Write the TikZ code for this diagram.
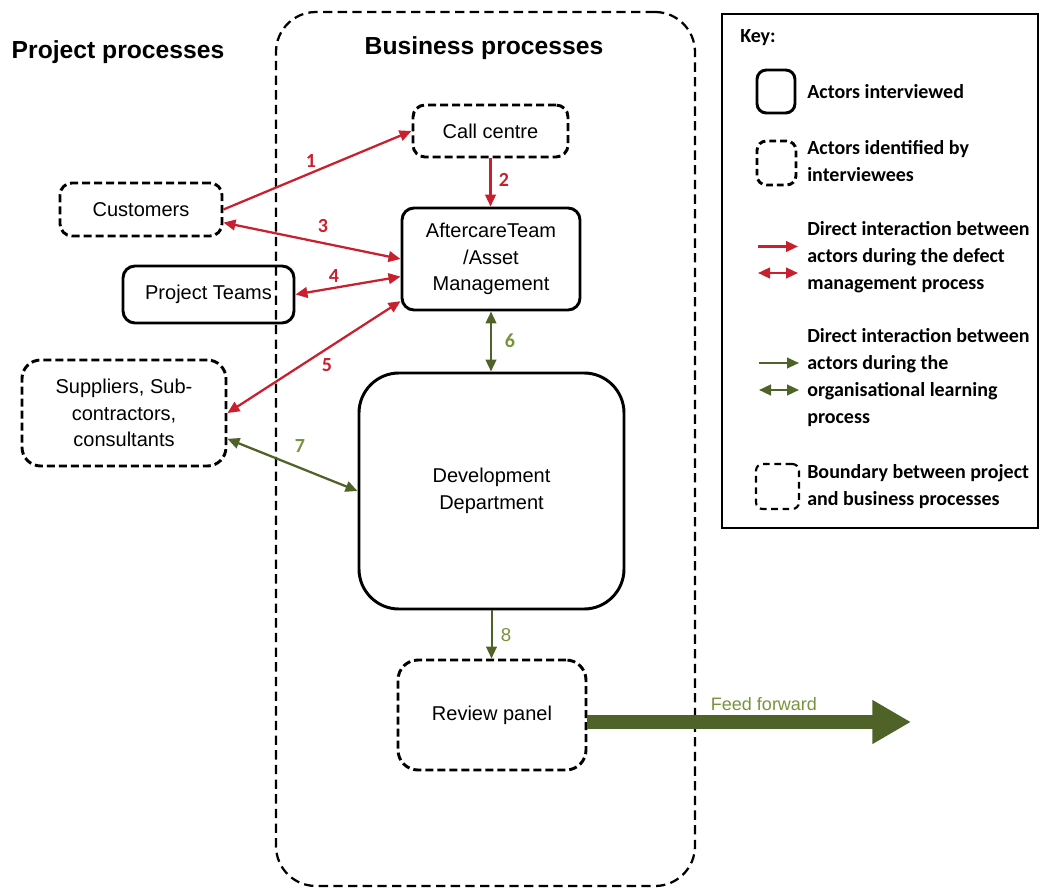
\documentclass[tikz,border=0pt]{standalone}
\usepackage{fontspec}
\setmainfont{Liberation Sans}
\newfontfamily\calib{Carlito}
\usetikzlibrary{arrows.meta}
\definecolor{myred}{RGB}{200,32,46}
\definecolor{mygreen}{RGB}{79,98,40}
\definecolor{mylgreen}{RGB}{119,147,60}
\newcommand{\nodefont}{\fontsize{15}{20}\selectfont}
\newcommand{\keyfont}{\calib\bfseries\fontsize{15}{20.25}\selectfont}
\tikzset{
  solidbox/.style={draw, line width=2.2pt, rounded corners=9pt, align=center, font=\nodefont, inner sep=0pt},
  dashbox/.style={solidbox, dash pattern=on 6pt off 3pt},
  tipr/.tip={Triangle[length=9pt,width=8pt]},
  redarr/.style={draw=myred, line width=1.7pt, -tipr, color=myred},
  redarrr/.style={draw=myred, line width=1.7pt, tipr-tipr, color=myred},
  grarr/.style={draw=mygreen, line width=1.5pt, -tipr, color=mygreen},
  grarrr/.style={draw=mygreen, line width=1.7pt, tipr-tipr, color=mygreen},
  rednum/.style={text=myred, font=\calib\bfseries\fontsize{15}{15}\selectfont, inner sep=0pt},
  grnum/.style={text=mylgreen, font=\calib\bfseries\fontsize{15}{15}\selectfont, inner sep=0pt},
  title/.style={font=\bfseries\fontsize{18.5}{20}\selectfont, inner sep=0pt},
  keytext/.style={font=\keyfont, align=left, anchor=west, inner sep=0pt},
}
\begin{document}
\begin{tikzpicture}[x=0.75pt,y=-0.75pt]
\useasboundingbox (0,0) rectangle (1040,888);
% boundary
\node[draw, line width=1.7pt, dash pattern=on 7pt off 4pt, rounded corners=30pt,
      minimum width=314.25pt, minimum height=655.5pt, inner sep=0pt] (bnd) at (485.5,449) {};
% titles
\node[title] (tproj) at (118,52) {Project processes};
\node[title] (tbus) at (484,48) {Business processes};
% nodes
\node[dashbox, minimum width=116.25pt, minimum height=39pt] (callc) at (490.5,131) {Call centre};
\node[dashbox, minimum width=121.5pt, minimum height=39.75pt] (cust) at (141,209.5) {Customers};
\node[solidbox, minimum width=133.5pt, minimum height=76.5pt] (aft) at (491,259) {AftercareTeam\\/Asset\\Management};
\node[solidbox, minimum width=128.25pt, minimum height=42.75pt] (pt) at (208.5,294.5) {Project Teams};
\node[dashbox, minimum width=153pt, minimum height=79.5pt, rounded corners=14pt] (sup) at (124,413) {Suppliers, Sub-\\contractors,\\consultants};
\node[solidbox, minimum width=198.75pt, minimum height=177pt, rounded corners=30pt] (dev) at (491.5,491) {Development\\Department};
\node[dashbox, minimum width=141pt, minimum height=82.5pt, rounded corners=15pt] (rev) at (492,715) {Review panel};
% red connectors
\draw[redarr] (cust.east) -- (callc.west);
\draw[redarr] (callc.south) -- (callc.south |- aft.north);
\draw[redarrr] (cust.-9) -- (aft.west);
\draw[redarrr] (pt.east) -- (aft.191);
\draw[redarrr] (sup.east) -- (aft.205);
% green connectors
\draw[grarrr] (aft.south) -- (aft.south |- dev.north);
\draw[grarrr] (sup.-14) -- (dev.west);
\draw[grarr] (dev.south) -- (dev.south |- rev.north);
% labels
\node[rednum] (l1) at (311,161) {1};
\node[rednum] (l2) at (504,180) {2};
\node[rednum] (l3) at (323,226) {3};
\node[rednum] (l4) at (334,276) {4};
\node[rednum] (l5) at (327,365) {5};
\node[grnum] (l6) at (510,341) {6};
\node[grnum] (l7) at (300,446) {7};
\node[text=mylgreen, font=\fontsize{14}{14}\selectfont, inner sep=0pt] (l8) at (506,635) {8};
% feed forward
\coordinate (ffend) at (911,722);
\draw[draw=mygreen, line width=10.5pt, -{Triangle[length=29pt,width=31pt]}, color=mygreen] (rev.east |- ffend) -- (ffend);
\node[text=mylgreen, font=\fontsize{13.5}{14}\selectfont, inner sep=0pt] (fftext) at (764,704) {Feed forward};
% key
\node[draw, line width=1.8pt, minimum width=237pt, minimum height=385.5pt, inner sep=0pt] (key) at (880,271) {};
\node[keytext] (keyt) at (740,38) {Key:};
\node[draw, line width=2.2pt, rounded corners=7pt, minimum width=28.5pt, minimum height=32.25pt, inner sep=0pt] (ks1) at (776,91.5) {};
\node[keytext] (kt1) at (807,92) {Actors interviewed};
\node[draw, line width=2.2pt, dash pattern=on 5pt off 3pt, rounded corners=7pt, minimum width=29.25pt, minimum height=33pt, inner sep=0pt] (ks2) at (776.5,163) {};
\node[keytext] (kt2) at (807,161.5) {Actors identified by\\interviewees};
\coordinate (kr1a) at (758,246.5); \coordinate (kr1b) at (798,246.5);
\coordinate (kr2a) at (758,273); \coordinate (kr2b) at (798,273);
\draw[redarr] (kr1a) -- (kr1b);
\draw[redarrr] (kr2a) -- (kr2b);
\node[keytext] (kt3) at (807,257) {Direct interaction between\\actors during the defect\\management process};
\coordinate (kg1a) at (759,363); \coordinate (kg1b) at (799,363);
\coordinate (kg2a) at (759,390); \coordinate (kg2b) at (799,390);
\draw[grarr] (kg1a) -- (kg1b);
\draw[grarrr] (kg2a) -- (kg2b);
\node[keytext] (kt4) at (807,378) {Direct interaction between\\actors during the\\organisational learning\\process};
\node[draw, line width=1.6pt, dash pattern=on 5pt off 3.5pt, rounded corners=5pt, minimum width=32.25pt, minimum height=33.75pt, inner sep=0pt] (ks3) at (777.5,486.5) {};
\node[keytext] (kt5) at (807,487) {Boundary between project\\and business processes};
\end{tikzpicture}
\end{document}
